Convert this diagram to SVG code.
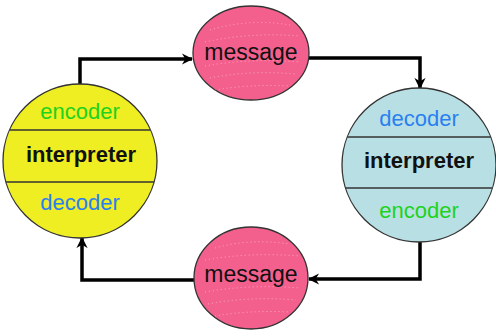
<svg xmlns="http://www.w3.org/2000/svg" width="496" height="336" viewBox="0 0 496 336">
  <style>
    .lbl { font-family: "Liberation Sans", Arial, sans-serif; font-size: 22px; text-anchor: middle; dominant-baseline: central; }
    .bold { font-weight: bold; fill: #111; }
    .enc { fill: #1ed21e; }
    .dec { fill: #2a7ff0; }
    .msg { font-family: "Liberation Sans", Arial, sans-serif; font-size: 23px; text-anchor: middle; dominant-baseline: central; fill: #111; }
    .node { stroke: #333; stroke-width: 1.3; }
    .div { stroke: #333; stroke-width: 1.3; }
    .wire { fill: none; stroke: #000; stroke-width: 3.5; }
    .speck { fill: none; stroke: #ffffff; stroke-opacity: 0.45; stroke-width: 1; stroke-dasharray: 1 3; }
  </style>
  <defs>
    <marker id="arrow" viewBox="0 0 10 10" refX="9" refY="5" markerWidth="3.2" markerHeight="3.2" orient="auto" markerUnits="strokeWidth">
      <path d="M0,0 L10,5 L0,10 L3,5 z" fill="#000"/>
    </marker>
    <clipPath id="clipTop"><ellipse cx="251" cy="53" rx="58" ry="47"/></clipPath>
    <clipPath id="clipBot"><ellipse cx="251" cy="278" rx="57" ry="51"/></clipPath>
    <clipPath id="clipL"><circle cx="80" cy="161" r="77"/></clipPath>
    <clipPath id="clipR"><circle cx="419" cy="165" r="77"/></clipPath>
  </defs>

  <g id="connectors">
    <path class="wire" d="M80,84 V59 H192" marker-end="url(#arrow)"/>
    <path class="wire" d="M309,58 H420 V88" marker-end="url(#arrow)"/>
    <path class="wire" d="M420,242 V279 H309" marker-end="url(#arrow)"/>
    <path class="wire" d="M194,280 H82 V238" marker-end="url(#arrow)"/>
  </g>

  <g id="interpreter-left">
    <circle class="node" cx="80" cy="161" r="77" fill="#eeee22"/>
    <g clip-path="url(#clipL)">
      <line class="div" x1="0" y1="130" x2="160" y2="130"/>
      <line class="div" x1="0" y1="182" x2="160" y2="182"/>
    </g>
    <text class="lbl enc" x="80" y="111">encoder</text>
    <text class="lbl bold" x="81" y="154">interpreter</text>
    <text class="lbl dec" x="80" y="202">decoder</text>
  </g>

  <g id="interpreter-right">
    <circle class="node" cx="419" cy="165" r="77" fill="#b8e0e4"/>
    <g clip-path="url(#clipR)">
      <line class="div" x1="340" y1="137" x2="500" y2="137"/>
      <line class="div" x1="340" y1="188" x2="500" y2="188"/>
    </g>
    <text class="lbl dec" x="419" y="118">decoder</text>
    <text class="lbl bold" x="419" y="160">interpreter</text>
    <text class="lbl enc" x="419" y="210">encoder</text>
  </g>

  <g id="message-top">
    <ellipse class="node" cx="251" cy="53" rx="58" ry="47" fill="#f4608e"/>
    <g clip-path="url(#clipTop)">
      <path class="speck" d="M210,30 Q250,18 290,25 M205,42 Q250,32 300,36 M205,66 Q250,58 300,62 M210,78 Q250,70 295,74 M215,90 Q250,84 290,86"/>
    </g>
    <text class="msg" x="251" y="52">message</text>
  </g>

  <g id="message-bottom">
    <ellipse class="node" cx="251" cy="278" rx="57" ry="51" fill="#f4608e"/>
    <g clip-path="url(#clipBot)">
      <path class="speck" d="M215,248 Q250,238 290,244 M205,260 Q250,252 300,256 M205,292 Q250,284 300,288 M208,304 Q250,296 296,300 M215,316 Q250,310 290,312"/>
    </g>
    <text class="msg" x="251" y="274">message</text>
  </g>
</svg>
